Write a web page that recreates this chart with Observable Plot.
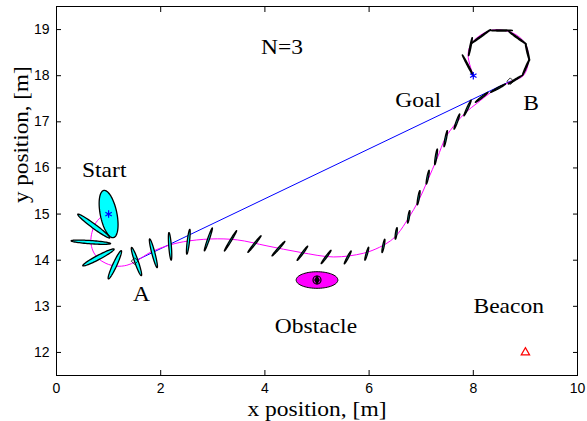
<!DOCTYPE html>
<html><head><meta charset="utf-8">
<script src="https://cdn.jsdelivr.net/npm/d3@7"></script>
<script src="https://cdn.jsdelivr.net/npm/@observablehq/plot@0.6"></script>
<style>body{margin:0;background:#fff} svg{display:block}</style>
</head><body><div id="chart"></div>
<script>
// ---- data ----
const xTicks = [0, 2, 4, 6, 8, 10];
const yTicks = [12, 13, 14, 15, 16, 17, 18, 19];

// true robot path (magenta)
const pathX = [1.0, 0.85, 0.74, 0.68, 0.66, 0.70, 0.80, 0.95, 1.15, 1.35, 1.52, 1.8, 2.12, 2.44, 2.96, 3.47, 4.04, 4.68, 5.32, 5.89, 6.2, 6.41, 6.55, 6.76, 6.95, 7.12, 7.31, 7.47, 7.66, 7.85, 8.08, 8.33, 8.71, 8.96, 9.06, 9.0, 8.75, 8.33, 7.98, 7.9, 8.0];
const pathY = [15.0, 14.93, 14.78, 14.6, 14.4, 14.2, 14.04, 13.93, 13.87, 13.89, 13.97, 14.17, 14.31, 14.40, 14.46, 14.44, 14.31, 14.17, 14.07, 14.15, 14.28, 14.42, 14.57, 14.92, 15.29, 15.72, 16.22, 16.66, 16.96, 17.2, 17.41, 17.63, 17.87, 18.0, 18.33, 18.69, 18.93, 18.98, 18.72, 18.45, 18.0];

// uncertainty ellipses: centre, semi-axes (m), orientation (deg)
const ellX   = [1.0, 0.715, 0.66, 0.805, 1.12, 1.535, 1.86, 2.18, 2.53, 2.915, 3.34, 3.80, 4.26, 4.72, 5.175, 5.59, 5.955, 6.275, 6.52, 6.76, 6.95, 7.125, 7.285, 7.47, 7.685, 7.89, 8.16, 8.475, 8.80, 9.01, 9.04, 8.85, 8.54, 8.14, 7.945, 7.895];
const ellY   = [15.0, 14.74, 14.39, 14.06, 13.9, 13.97, 14.15, 14.30, 14.40, 14.45, 14.42, 14.35, 14.25, 14.15, 14.07, 14.06, 14.14, 14.31, 14.58, 14.94, 15.355, 15.80, 16.24, 16.635, 17.005, 17.30, 17.53, 17.73, 17.91, 18.18, 18.51, 18.82, 18.98, 18.845, 18.63, 18.225];
const ellA   = [0.52, 0.40, 0.38, 0.35, 0.33, 0.32, 0.32, 0.30, 0.27, 0.26, 0.25, 0.22, 0.20, 0.185, 0.173, 0.155, 0.145, 0.147, 0.126, 0.137, 0.157, 0.152, 0.172, 0.178, 0.174, 0.184, 0.163, 0.17, 0.158, 0.19, 0.185, 0.217, 0.21, 0.245, 0.2, 0.25];
const ellB   = [0.16, 0.045, 0.035, 0.045, 0.04, 0.035, 0.03, 0.025, 0.022, 0.018, 0.015, 0.015, 0.015, 0.015, 0.015, 0.015, 0.015, 0.015, 0.015, 0.015, 0.015, 0.015, 0.015, 0.015, 0.015, 0.015, 0.015, 0.015, 0.012, 0.012, 0.012, 0.012, 0.012, 0.012, 0.012, 0.012];
const ellAng = [100, -40, -4.5, 31, 68, 107, 103, 94, 84, 73, 62, 55, 52, 57, 57, 65, 76, 80, 83, 82, 81, 80, 82, 80, 72, 68, 42, 32, 35, 69, 102, 141, 180, 219, 80, -65];

// obstacle
const obstacle = {x: 5.0, y: 13.57, a: 0.40, b: 0.18};
// key points
const startPt = [1.0, 15.0];
const goalPt  = [8.0, 18.0];
const ptA     = [1.5, 13.98];
const ptB     = [8.71, 17.88];
const beacon  = [9.0, 12.0];

// annotations
const labelText = ["N=3", "Start", "A", "Goal", "B", "Obstacle", "Beacon"];
const labelX    = [4.33, 0.916, 1.63, 6.94, 9.11, 4.98, 8.68];
const labelY    = [18.62, 15.95, 13.26, 17.47, 17.40, 12.57, 12.99];

// ---- build tables ----
const path = pathX.map((x, i) => ({x, y: pathY[i]}));
function ellipsePts(id, cx, cy, a, b, angDeg) {
  const th = angDeg * Math.PI / 180, n = 72, out = [];
  for (let k = 0; k < n; k++) {
    const t = 2 * Math.PI * k / n;
    out.push({id,
      x: cx + a * Math.cos(t) * Math.cos(th) - b * Math.sin(t) * Math.sin(th),
      y: cy + a * Math.cos(t) * Math.sin(th) + b * Math.sin(t) * Math.cos(th)});
  }
  return out;
}
const ells = ellX.flatMap((x, i) => ellipsePts(i, x, ellY[i], ellA[i], ellB[i], ellAng[i]));
const obsPts = ellipsePts("obs", obstacle.x, obstacle.y, obstacle.a, obstacle.b, 0);
const labels = labelText.map((t, i) => ({t, x: labelX[i], y: labelY[i]}));

const serif = "Liberation Serif, Times New Roman, serif";

const chart = Plot.plot({
  width: 587, height: 421,
  marginLeft: 56, marginRight: 10, marginTop: 6, marginBottom: 46,
  style: {fontFamily: "Liberation Sans, Arial, sans-serif", fontSize: "14px", background: "white", color: "black"},
  x: {domain: [0, 10], axis: null},
  y: {domain: [11.5, 19.5], axis: null},
  marks: [
    Plot.line([ptA, ptB], {x: d => d[0], y: d => d[1], stroke: "#0000ff", strokeWidth: 1}),
    Plot.line(path, {x: "x", y: "y", stroke: "#ff00ff", strokeWidth: 1, curve: "catmull-rom"}),
    Plot.line(ells, {x: "x", y: "y", z: "id", fill: "#00ffff", stroke: "black", strokeWidth: 1.3, curve: "linear-closed"}),
    Plot.line(obsPts, {x: "x", y: "y", z: "id", fill: "#ff00ff", stroke: "black", strokeWidth: 1, curve: "linear-closed"}),
    Plot.dot([[obstacle.x, obstacle.y]], {x: d => d[0], y: d => d[1], r: 4, stroke: "black", strokeWidth: 1.2, fill: "none"}),
    Plot.dot([[obstacle.x, obstacle.y]], {x: d => d[0], y: d => d[1], symbol: "diamond", r: 3, fill: "black"}),
    Plot.dot([startPt, goalPt], {x: d => d[0], y: d => d[1], symbol: "asterisk", r: 3.5, stroke: "#0000ff", strokeWidth: 1.2}),
    Plot.dot([ptA, ptB], {x: d => d[0], y: d => d[1], symbol: "diamond2", r: 3, stroke: "black", strokeWidth: 0.8, fill: "none"}),
    Plot.dot([beacon], {x: d => d[0], y: d => d[1], symbol: "triangle2", r: 4, stroke: "red", strokeWidth: 1.2, fill: "none"}),
    Plot.text(labels, {x: "x", y: "y", text: "t", fontFamily: serif, fontSize: 21, fill: "black", textAnchor: "middle", lineAnchor: "middle"}),
    Plot.frame({stroke: "black", strokeWidth: 1}),
    Plot.axisX({anchor: "bottom", ticks: xTicks, tickSize: -5, tickPadding: 13, label: null, fontSize: 14}),
    Plot.axisX({anchor: "top", ticks: xTicks, tickSize: -5, tickFormat: () => "", label: null}),
    Plot.axisY({anchor: "left", ticks: yTicks, tickSize: -5, tickPadding: 12, label: null, fontSize: 14}),
    Plot.axisY({anchor: "right", ticks: yTicks, tickSize: -5, tickFormat: () => "", label: null}),
    Plot.text(["x position, [m]"], {frameAnchor: "bottom", text: d => d, dy: 34, fontFamily: serif, fontSize: 21, fill: "black", lineAnchor: "middle"}),
    Plot.text(["y position, [m]"], {frameAnchor: "left", text: d => d, rotate: -90, dx: -35, dy: 12, fontFamily: serif, fontSize: 21, fill: "black", lineAnchor: "middle"})
  ]
});
// widen the serif (Times-like) texts horizontally, as in the reference rendering
d3.select(chart).selectAll("g[font-family^='Liberation Serif'] text").each(function () {
  const t = this.getAttribute("transform") || "";
  if (t.includes("rotate")) this.setAttribute("transform", t + " scale(1.1,1)");
  else this.setAttribute("transform", t + " scale(1.12,1)");
});
document.getElementById("chart").appendChild(chart);
</script>
</body></html>
